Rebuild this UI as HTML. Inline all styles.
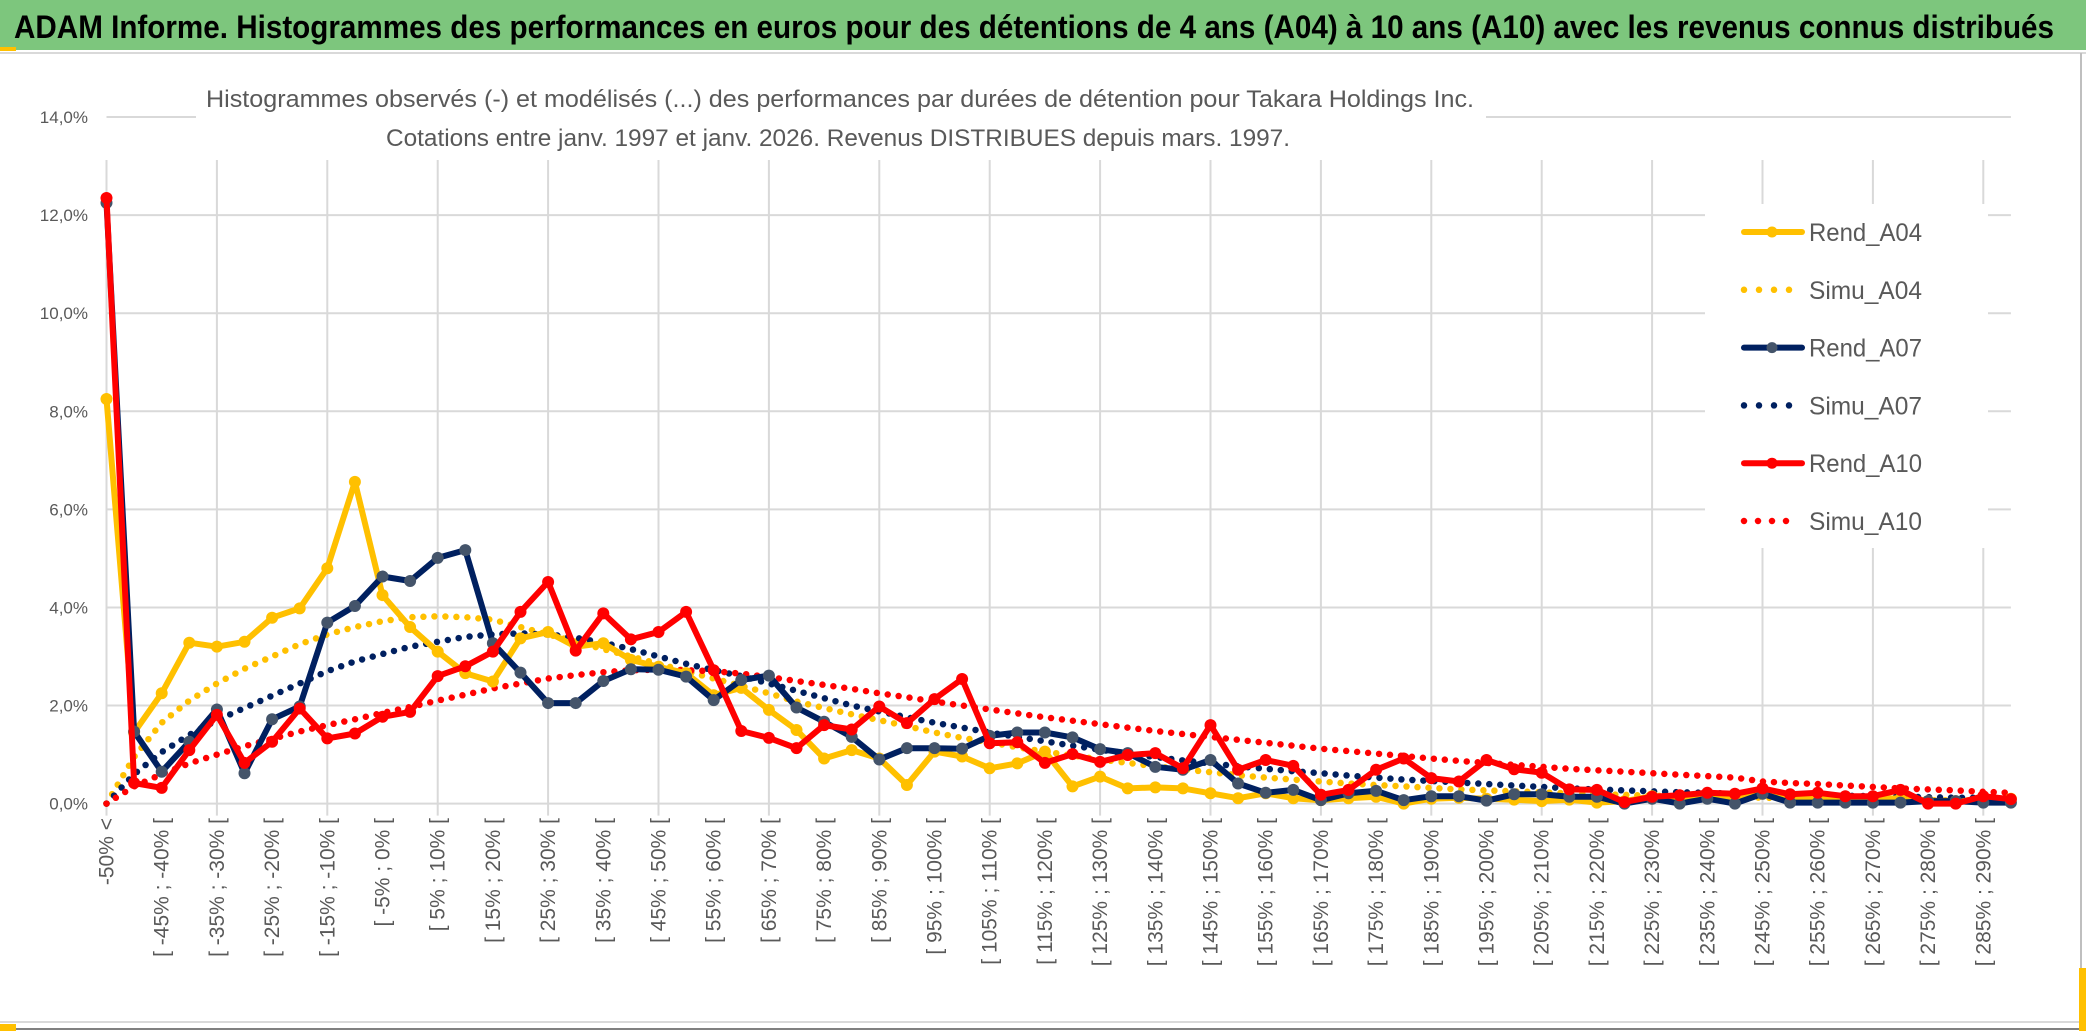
<!DOCTYPE html>
<html><head><meta charset="utf-8"><style>
html,body{margin:0;padding:0;background:#fff;}
svg{display:block;}
text{font-family:"Liberation Sans",sans-serif;}
</style></head><body>
<svg id="chart" width="2086" height="1031" viewBox="0 0 2086 1031" xmlns="http://www.w3.org/2000/svg">
<rect x="0" y="0" width="2086" height="50" fill="#7DC67D"/>
<rect x="0" y="47" width="16" height="4" fill="#FFC000"/>
<text x="14" y="38" font-size="32" font-weight="bold" fill="#000" textLength="2040" lengthAdjust="spacingAndGlyphs">ADAM Informe. Histogrammes des performances en euros pour des détentions de 4 ans (A04) à 10 ans (A10) avec les revenus connus distribués</text>
<line x1="0" y1="53" x2="2086" y2="53" stroke="#d9d9d9" stroke-width="2"/>
<line x1="2081" y1="53" x2="2081" y2="1026" stroke="#bfbfbf" stroke-width="2"/>
<line x1="0" y1="1022" x2="2086" y2="1022" stroke="#d9d9d9" stroke-width="2"/>
<line x1="0" y1="1029" x2="2086" y2="1029" stroke="#808080" stroke-width="2"/>
<rect x="0" y="1024" width="16" height="7" fill="#FFC000"/>
<rect x="2079" y="968" width="7" height="63" fill="#FFC000"/>
<g id="grid"></g>
<rect x="196" y="60" width="1290" height="98" fill="#fff"/>
<text x="206" y="107" font-size="24" fill="#595959" textLength="1268" lengthAdjust="spacingAndGlyphs">Histogrammes observés (-) et modélisés (...) des performances par durées de détention pour Takara Holdings Inc.</text>
<text x="386" y="146" font-size="24" fill="#595959" textLength="904" lengthAdjust="spacingAndGlyphs">Cotations entre janv. 1997 et janv. 2026. Revenus DISTRIBUES depuis mars. 1997.</text>
<g id="axes"></g>
<g id="series"></g>
<g id="legend"></g>
</svg>
<script>
const categoriesCount = 70;
const yTicks = [0,2,4,6,8,10,12,14];
const rendA04 = [8.25,1.45,2.25,3.28,3.2,3.3,3.79,3.98,4.8,6.56,4.25,3.6,3.1,2.66,2.49,3.37,3.5,3.2,3.27,2.93,2.79,2.66,2.21,2.36,1.91,1.5,0.92,1.09,0.92,0.38,1.06,0.96,0.72,0.82,1.06,0.35,0.55,0.31,0.33,0.31,0.21,0.11,0.21,0.11,0.07,0.11,0.14,0.0,0.1,0.12,0.1,0.08,0.05,0.08,0.02,0.05,0.15,0.1,0.12,0.1,0.2,0.1,0.1,0.1,0.12,0.1,0.05,0.05,0.05,0.1];
const rendA07 = [12.25,1.47,0.65,1.26,1.92,0.62,1.72,1.98,3.69,4.03,4.63,4.54,5.01,5.17,3.27,2.67,2.05,2.05,2.5,2.74,2.73,2.59,2.11,2.52,2.61,1.96,1.67,1.36,0.9,1.13,1.13,1.12,1.38,1.45,1.45,1.35,1.11,1.03,0.75,0.69,0.89,0.41,0.22,0.28,0.07,0.21,0.26,0.07,0.15,0.15,0.06,0.19,0.19,0.14,0.14,0.0,0.1,0.0,0.1,0.0,0.2,0.02,0.02,0.02,0.02,0.02,0.05,0.05,0.02,0.02];
const rendA10 = [12.35,0.42,0.32,1.09,1.81,0.83,1.26,1.94,1.33,1.43,1.77,1.87,2.6,2.8,3.1,3.91,4.52,3.12,3.88,3.35,3.5,3.91,2.72,1.48,1.34,1.13,1.6,1.51,1.98,1.64,2.13,2.54,1.23,1.25,0.83,1.01,0.85,0.99,1.03,0.72,1.6,0.69,0.89,0.77,0.18,0.28,0.69,0.92,0.52,0.45,0.89,0.7,0.63,0.29,0.28,0.03,0.14,0.17,0.22,0.2,0.31,0.19,0.22,0.15,0.15,0.28,0.0,0.0,0.15,0.09];
const simuA04 = [0,0.95,1.65,2.1,2.45,2.75,3.0,3.25,3.45,3.6,3.72,3.8,3.82,3.8,3.75,3.6,3.45,3.3,3.15,3.0,2.85,2.7,2.55,2.4,2.25,2.08,1.95,1.82,1.7,1.58,1.45,1.34,1.25,1.15,1.06,0.98,0.9,0.83,0.76,0.7,0.64,0.58,0.53,0.49,0.45,0.41,0.38,0.35,0.32,0.29,0.27,0.25,0.23,0.21,0.19,0.18,0.16,0.15,0.14,0.13,0.12,0.11,0.1,0.09,0.09,0.08,0.07,0.07,0.06,0.06];
const simuA07 = [0,0.6,1.05,1.4,1.7,1.95,2.2,2.45,2.7,2.9,3.05,3.2,3.3,3.4,3.45,3.47,3.45,3.38,3.28,3.15,3.0,2.85,2.72,2.6,2.45,2.3,2.15,2.0,1.88,1.76,1.65,1.55,1.45,1.36,1.27,1.18,1.1,1.02,0.95,0.88,0.82,0.76,0.71,0.66,0.62,0.57,0.53,0.49,0.46,0.43,0.4,0.37,0.34,0.31,0.29,0.27,0.25,0.23,0.22,0.2,0.19,0.18,0.17,0.16,0.15,0.14,0.13,0.12,0.12,0.11];
const simuA10 = [0,0.35,0.6,0.82,1.0,1.17,1.32,1.47,1.6,1.72,1.85,1.97,2.1,2.22,2.35,2.45,2.55,2.62,2.68,2.72,2.73,2.72,2.7,2.65,2.58,2.5,2.42,2.34,2.25,2.17,2.08,2.0,1.92,1.84,1.76,1.69,1.62,1.55,1.48,1.42,1.36,1.3,1.24,1.18,1.12,1.07,1.02,0.97,0.92,0.87,0.83,0.79,0.75,0.71,0.68,0.65,0.62,0.59,0.56,0.53,0.45,0.42,0.4,0.37,0.34,0.31,0.29,0.27,0.24,0.22];
const seriesNames = ["Rend_A04","Simu_A04","Rend_A07","Simu_A07","Rend_A10","Simu_A10"];

const NS = "http://www.w3.org/2000/svg";
const X0 = 106.5, DX = 27.6, Y0 = 803.6, DY = 49.04;
function xAt(i){ return X0 + i*DX; }
function yAt(v){ return Y0 - v*DY; }
function mk(tag, attrs, parent){ const e=document.createElementNS(NS,tag); for(const k in attrs) e.setAttribute(k,attrs[k]); parent.appendChild(e); return e; }
function catLabel(i){ if(i===0) return "-50% <"; const lo=-50+5*(i-1); return "[ "+lo+"% ; "+(lo+5)+"% ["; }

const grid = document.getElementById('grid');
yTicks.forEach(t=>{
  const l = mk('line',{x1:X0,x2:xAt(categoriesCount-1),y1:yAt(t),y2:yAt(t),stroke:'#d9d9d9','stroke-width':2},grid);
  
  
});
for(let i=0;i<categoriesCount;i+=4){
  const l = mk('line',{x1:xAt(i),x2:xAt(i),y1:160,y2:yAt(0)+12,stroke:'#d9d9d9','stroke-width':2},grid);
  
  
}
const axes = document.getElementById('axes');
yTicks.forEach(t=>{
  const tx = mk('text',{x:88,y:yAt(t)+6,'text-anchor':'end','font-size':17,fill:'#595959'},axes);
  tx.textContent = t.toFixed(1).replace('.',',')+'%';
  
  
});
for(let i=0;i<categoriesCount;i+=2){
  const x = xAt(i)+7, y = 818;
  const tx = mk('text',{x:x,y:y,transform:`rotate(-90 ${x} ${y})`,'text-anchor':'end','font-size':21,fill:'#595959'},axes);
  tx.textContent = catLabel(i);
  
  
}

const sg = document.getElementById('series');
function pts(arr){ return arr.map((v,i)=>xAt(i).toFixed(1)+','+yAt(v).toFixed(1)).join(' '); }
function dotted(arr,color,name){
  const p = mk('polyline',{points:pts(arr),fill:'none',stroke:color,'stroke-width':6.5,'stroke-linecap':'round','stroke-dasharray':'0 11'},sg);
  
  
}
function solid(arr,color,mcol,name){
  const p = mk('polyline',{points:pts(arr),fill:'none',stroke:color,'stroke-width':6,'stroke-linejoin':'round'},sg);
  
  
  arr.forEach((v,i)=>{
    const c = mk('circle',{cx:xAt(i),cy:yAt(v),r:6,fill:mcol},sg);
    
    
  });
}
dotted(simuA04,'#FFC000','simu-a04-line');
dotted(simuA07,'#002060','simu-a07-line');
dotted(simuA10,'#FF0000','simu-a10-line');
solid(rendA04,'#FFC000','#FFC000','rend-a04-line');
solid(rendA07,'#002060','#44546A','rend-a07-line');
solid(rendA10,'#FF0000','#FF0000','rend-a10-line');

const lg = document.getElementById('legend');
const lbg = mk('rect',{x:1705,y:204,width:283,height:344,fill:'#fff'},lg);


const lcol = ['#FFC000','#FFC000','#002060','#002060','#FF0000','#FF0000'];
const mcol = ['#FFC000',null,'#44546A',null,'#FF0000',null];
seriesNames.forEach((n,k)=>{
  const y = 232 + k*57.8;
  if(k%2===0){
    const l = mk('line',{x1:1744,x2:1802,y1:y,y2:y,stroke:lcol[k],'stroke-width':6,'stroke-linecap':'round'},lg);
    
    
    const c = mk('circle',{cx:1772,cy:y,r:5.5,fill:mcol[k]},lg);
    
    
  } else {
    const l = mk('line',{x1:1744,x2:k===5?1800:1790,y1:y,y2:y,stroke:lcol[k],'stroke-width':6.5,'stroke-linecap':'round','stroke-dasharray':k===5?'0 14':'0 15'},lg);
    
    
  }
  const t = mk('text',{x:1809,y:y+9,'font-size':25,fill:'#595959',textLength:113,lengthAdjust:'spacingAndGlyphs'},lg);
  t.textContent = n;
  
  
});
</script>
</body></html>
